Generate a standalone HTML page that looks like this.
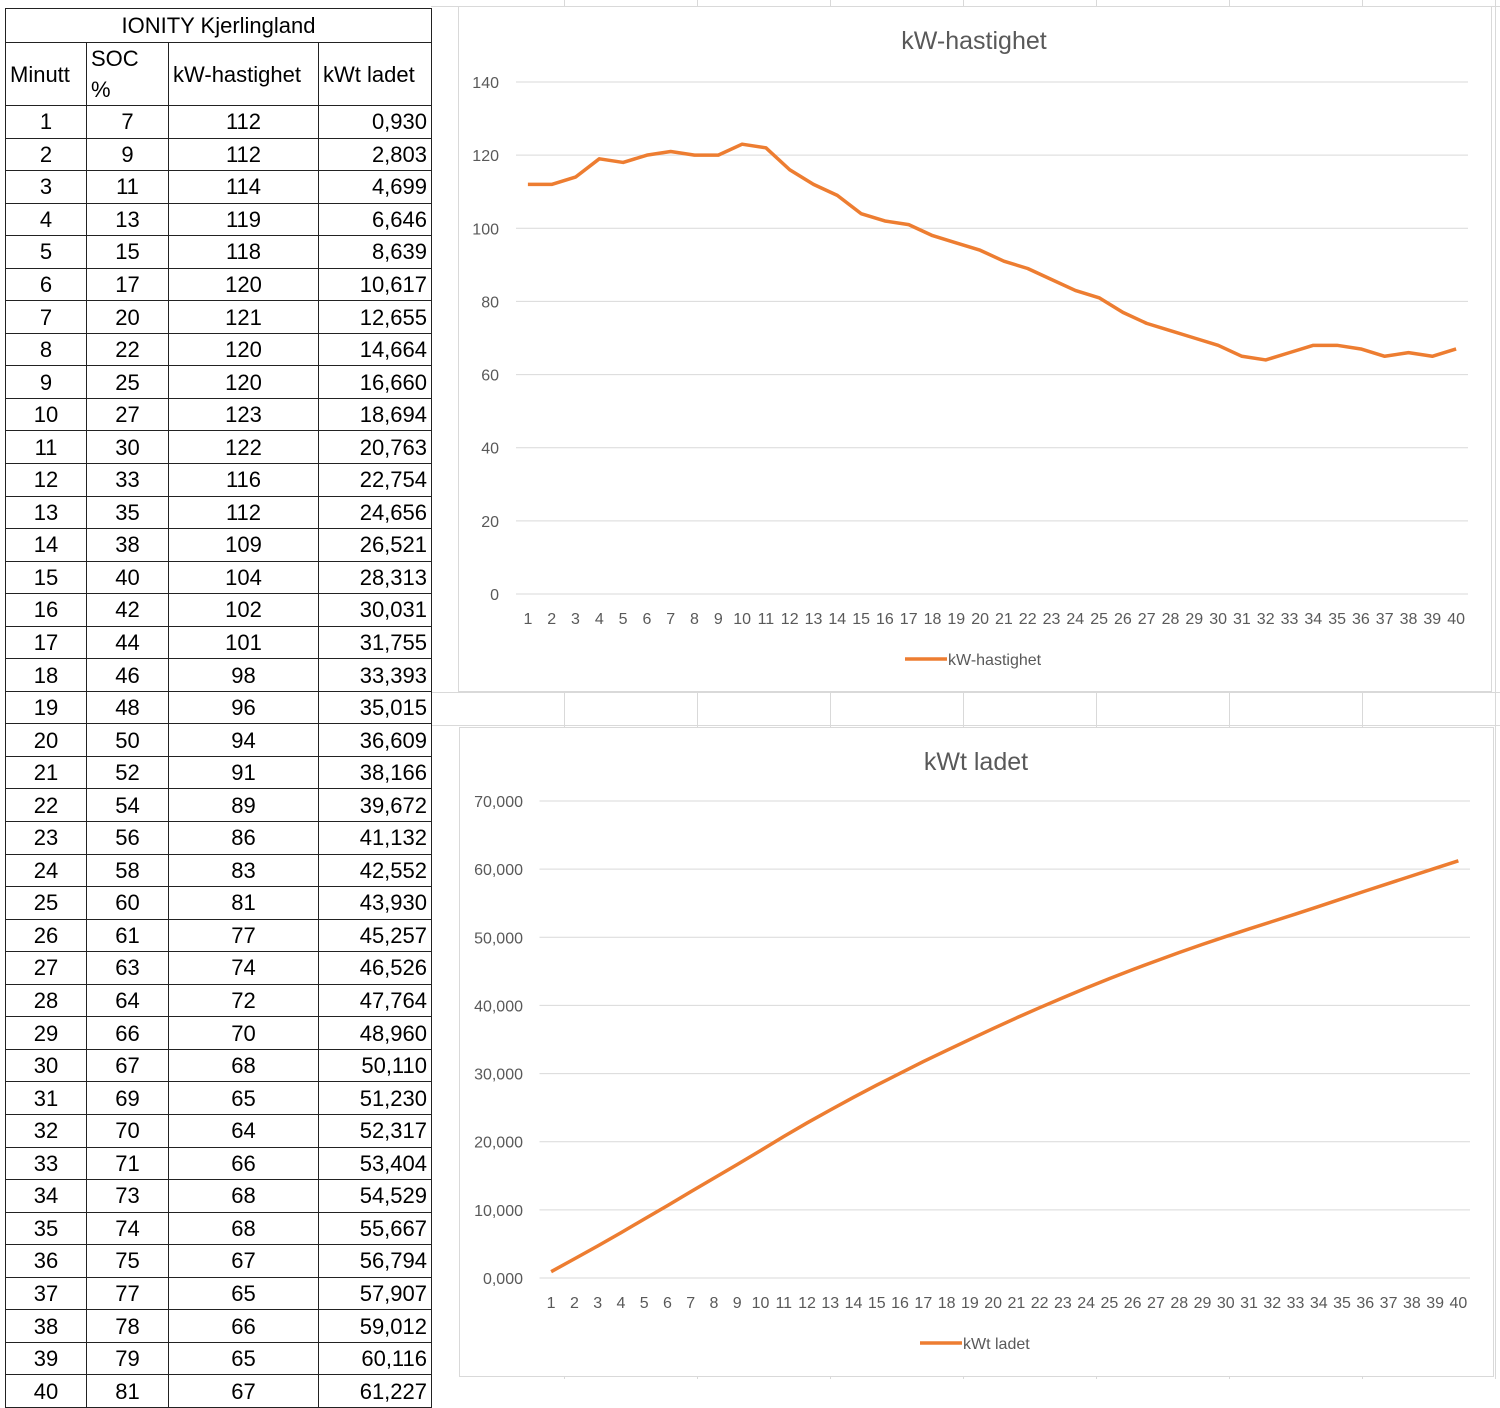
<!DOCTYPE html>
<html><head><meta charset="utf-8"><style>
body{margin:0;width:1500px;height:1379px;background:#fff;position:relative;overflow:hidden;font-family:"Liberation Sans",sans-serif;}
.gl{position:absolute;background:#d9d9d9;}
table{position:absolute;left:5px;top:8px;border-collapse:collapse;font-size:22px;color:#000;}
td{border:1.5px solid #222;height:31.55px;padding:0 4px;line-height:31px;}
.c{text-align:center}.r{text-align:right}
.panel{position:absolute;background:#fff;border:1px solid #d9d9d9;}
svg text{font-family:"Liberation Sans",sans-serif;}
</style></head><body>
<div class="gl" style="left:431px;top:6px;width:1069px;height:1px"></div>
<div class="gl" style="left:431px;top:692px;width:1069px;height:1px"></div>
<div class="gl" style="left:431px;top:725px;width:1069px;height:1px"></div>
<div class="gl" style="left:564px;top:0;width:1px;height:1379px"></div>
<div class="gl" style="left:697px;top:0;width:1px;height:1379px"></div>
<div class="gl" style="left:830px;top:0;width:1px;height:1379px"></div>
<div class="gl" style="left:963px;top:0;width:1px;height:1379px"></div>
<div class="gl" style="left:1096px;top:0;width:1px;height:1379px"></div>
<div class="gl" style="left:1229px;top:0;width:1px;height:1379px"></div>
<div class="gl" style="left:1362px;top:0;width:1px;height:1379px"></div>
<div class="gl" style="left:1495px;top:0;width:1px;height:1379px"></div>

<table id="tbl">
<tr><td colspan="4" class="c" style="height:33px">IONITY Kjerlingland</td></tr>
<tr>
<td style="width:72px;height:32px">Minutt</td>
<td style="width:73px;height:32px">SOC %</td>
<td style="width:141px;height:32px">kW-hastighet</td>
<td style="width:104px;height:32px">kWt ladet</td></tr>
</table>

<div class="panel" style="left:458px;top:6px;width:1032px;height:684px"></div>
<div class="panel" style="left:459px;top:727px;width:1033px;height:648px"></div>
<svg id="svg" width="1500" height="1379" style="position:absolute;left:0;top:0"></svg>

<script>
const minutes=[1,2,3,4,5,6,7,8,9,10,11,12,13,14,15,16,17,18,19,20,21,22,23,24,25,26,27,28,29,30,31,32,33,34,35,36,37,38,39,40];
const soc=[7,9,11,13,15,17,20,22,25,27,30,33,35,38,40,42,44,46,48,50,52,54,56,58,60,61,63,64,66,67,69,70,71,73,74,75,77,78,79,81];
const kw=[112,112,114,119,118,120,121,120,120,123,122,116,112,109,104,102,101,98,96,94,91,89,86,83,81,77,74,72,70,68,65,64,66,68,68,67,65,66,65,67];
const kwt=[0.930,2.803,4.699,6.646,8.639,10.617,12.655,14.664,16.660,18.694,20.763,22.754,24.656,26.521,28.313,30.031,31.755,33.393,35.015,36.609,38.166,39.672,41.132,42.552,43.930,45.257,46.526,47.764,48.960,50.110,51.230,52.317,53.404,54.529,55.667,56.794,57.907,59.012,60.116,61.227];
const kwTicks=[0,20,40,60,80,100,120,140];
const kwtTicks=[0,10,20,30,40,50,60,70];

const tbl=document.getElementById('tbl');
const fmt=v=>v.toFixed(3).replace('.',',');
minutes.forEach((m,i)=>{
  const tr=document.createElement('tr');
  
  
  [[m,'c'],[soc[i],'c'],[kw[i],'c'],[fmt(kwt[i]),'r']].forEach(([v,c])=>{
    const td=document.createElement('td');
    
    
    td.className=c;td.textContent=v;tr.appendChild(td);
  });
  tbl.appendChild(tr);
});

const svg=document.getElementById('svg');
const NS='http://www.w3.org/2000/svg';
function el(t,a,txt){const e=document.createElementNS(NS,t);for(const k in a)e.setAttribute(k,a[k]);if(txt!==undefined)e.textContent=txt;svg.appendChild(e);return e;}

function chart(o){
  const n=minutes.length,step=(o.right-o.left)/n;
  const x=i=>o.left+step*(i+0.5);
  const y=v=>o.y0-(v-o.tmin)/(o.tmax-o.tmin)*(o.y0-o.ytop);
  const t=el('text',{x:o.cx,y:o.titleY,'text-anchor':'middle','font-size':25,fill:'#595959'},o.title);
  
  
  o.ticks.forEach(v=>{
    const g=el('line',{x1:o.left,x2:o.right,y1:y(v),y2:y(v),stroke:'#d9d9d9','stroke-width':1});
    
    
    const l=el('text',{x:o.labX,y:y(v)+6,'text-anchor':'end','font-size':16,fill:'#595959'},o.tfmt(v));
    
    
  });
  minutes.forEach((m,i)=>{
    const l=el('text',{x:x(i),y:o.y0+30,'text-anchor':'middle','font-size':16,fill:'#595959'},m);
    
    
  });
  const p=el('polyline',{points:o.data.map((v,i)=>x(i)+','+y(v)).join(' '),fill:'none',stroke:'#ED7D31','stroke-width':3.5,'stroke-linejoin':'round'});
  
  
  const lg=el('line',{x1:o.legX,x2:o.legX+42,y1:o.legY,y2:o.legY,stroke:'#ED7D31','stroke-width':3.5});
  
  
  const lt=el('text',{x:o.legX+43,y:o.legY+6,'font-size':16,fill:'#595959'},o.title);
  
  
}
chart({key:'kw',title:'kW-hastighet',data:kw,ticks:kwTicks,tmin:0,tmax:140,left:516,right:1468,y0:594,ytop:82,labX:499,cx:974,titleY:49,legX:905,legY:659,tfmt:v=>v});
chart({key:'kwt',title:'kWt ladet',data:kwt,ticks:kwtTicks,tmin:0,tmax:70,left:539.5,right:1470,y0:1278,ytop:801,labX:523,cx:976,titleY:770,legX:920,legY:1343,tfmt:v=>v+',000'});
</script>
</body></html>
